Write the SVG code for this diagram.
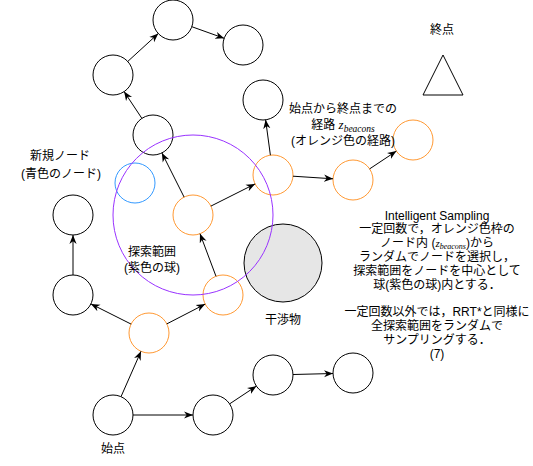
<svg xmlns="http://www.w3.org/2000/svg" width="533" height="466" viewBox="0 0 533 466">
<style>
text{font-family:"Liberation Sans","Noto Sans CJK JP",sans-serif;font-size:12px;fill:#000;text-anchor:middle}
.n{fill:#fff;stroke:#000;stroke-width:1}
.o{fill:#fff;stroke:#FF9933;stroke-width:1}
.b{fill:#fff;stroke:#3399FF;stroke-width:1}
.e{stroke:#000;stroke-width:1;fill:none;marker-end:url(#ah)}
.m{font-family:"Liberation Serif","DejaVu Serif",serif;font-style:italic}
</style>
<defs>
<marker id="ah" viewBox="0 0 10 10" refX="10" refY="5" markerWidth="9" markerHeight="9" markerUnits="userSpaceOnUse" orient="auto">
<path d="M0,1 L10,5 L0,9 L3,5 z" fill="#000"/>
</marker>
</defs>
<rect width="533" height="466" fill="#fff"/>

<g id="obstacle"><circle cx="283" cy="263" r="39" fill="#E6E6E6" stroke="#000"/><text x="283" y="324">干渉物</text></g>

<g id="N1"><circle class="n" cx="173" cy="20" r="20"/></g>
<g id="N2"><circle class="n" cx="243" cy="45" r="20"/></g>
<g id="N3"><circle class="n" cx="113" cy="75" r="20"/></g>
<g id="N4"><circle class="n" cx="263" cy="100" r="20"/></g>
<g id="N5"><circle class="n" cx="153" cy="135" r="20"/></g>
<g id="Bnew"><circle class="b" cx="135" cy="183" r="20"/></g>
<g id="O1"><circle class="o" cx="193" cy="215" r="20"/></g>
<g id="O2"><circle class="o" cx="273" cy="175" r="20"/></g>
<g id="O3"><circle class="o" cx="353" cy="180" r="20"/></g>
<g id="O4"><circle class="o" cx="413" cy="140" r="20"/></g>
<g id="L1"><circle class="n" cx="73" cy="215" r="20"/></g>
<g id="L2"><circle class="n" cx="73" cy="295" r="20"/></g>
<g id="O5"><circle class="o" cx="149" cy="333" r="20"/></g>
<g id="O6"><circle class="o" cx="223" cy="295" r="20"/></g>
<g id="start"><circle class="n" cx="113" cy="415" r="20"/><text x="113" y="453">始点</text></g>
<g id="M1"><circle class="n" cx="213" cy="415" r="20"/></g>
<g id="M2"><circle class="n" cx="273" cy="375" r="20"/></g>
<g id="M3"><circle class="n" cx="353" cy="373" r="20"/></g>

<g id="goal"><polygon points="443,55 423,95 463,95" fill="#fff" stroke="#000"/><text x="442" y="34">終点</text></g>

<g id="searchSphere"><circle cx="193" cy="215" r="80" fill="none" stroke="#9933FF" stroke-width="1"/></g>

<g id="connectors">
<line class="e" x1="133" y1="415" x2="193" y2="415"/>
<line class="e" x1="229.6" y1="403.9" x2="256.4" y2="386.1"/>
<line class="e" x1="293" y1="374.5" x2="333" y2="373.5"/>
<line class="e" x1="121" y1="396.7" x2="141" y2="351.3"/>
<line class="e" x1="131.1" y1="324.1" x2="90.9" y2="303.9"/>
<line class="e" x1="73" y1="275" x2="73" y2="235"/>
<line class="e" x1="166.8" y1="323.9" x2="205.2" y2="304.1"/>
<line class="e" x1="216" y1="276.3" x2="200" y2="233.7"/>
<line class="e" x1="184.1" y1="197.1" x2="161.9" y2="152.9"/>
<line class="e" x1="141.9" y1="118.4" x2="124.1" y2="91.6"/>
<line class="e" x1="127.7" y1="61.5" x2="158.3" y2="33.5"/>
<line class="e" x1="191.8" y1="26.7" x2="224.2" y2="38.3"/>
<line class="e" x1="210.9" y1="206.1" x2="255.1" y2="183.9"/>
<line class="e" x1="270.4" y1="155.2" x2="265.6" y2="119.8"/>
<line class="e" x1="293" y1="176.2" x2="333" y2="178.8"/>
<line class="e" x1="369.6" y1="168.9" x2="396.4" y2="151.1"/>
</g>

<g id="labels">
<text x="60" y="160">新規ノード</text>
<text x="61" y="178">(青色のノード)</text>
<text x="152" y="256">探索範囲</text>
<text x="152" y="272">(紫色の球)</text>
<text x="343" y="113">始点から終点までの</text>
<text x="343" y="129">経路 <tspan class="m" font-size="13">z</tspan><tspan class="m" font-size="9.5" dy="3">beacons</tspan></text>
<text x="343" y="145">(オレンジ色の経路)</text>
<text x="437" y="219.5">Intelligent Sampling</text>
<text x="437" y="233.3">一定回数で，オレンジ色枠の</text>
<text x="437" y="247.1">ノード内 (<tspan class="m" font-size="11">z</tspan><tspan class="m" font-size="8" dy="2">beacons</tspan><tspan dy="-2">)から</tspan></text>
<text x="437" y="260.9">ランダムでノードを選択し，</text>
<text x="437" y="274.7">探索範囲をノードを中心として</text>
<text x="437" y="288.5">球(紫色の球)内とする．</text>
<text x="437" y="316.1">一定回数以外では，RRT*と同様に</text>
<text x="437" y="329.9">全探索範囲をランダムで</text>
<text x="437" y="343.7">サンプリングする．</text>
<text x="437" y="357.5">(7)</text>
</g>
</svg>
